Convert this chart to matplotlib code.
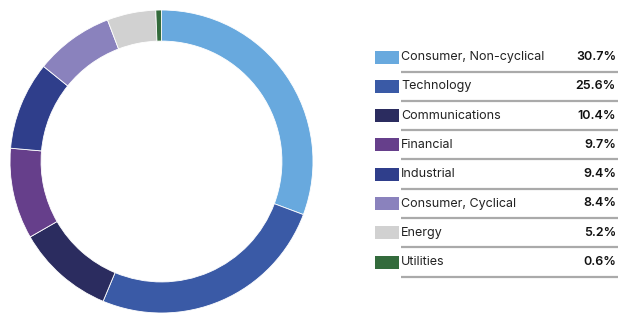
import matplotlib.pyplot as plt
from matplotlib.patches import Rectangle

sectors = ['Consumer, Non-cyclical', 'Technology', 'Communications', 'Financial',
           'Industrial', 'Consumer, Cyclical', 'Energy', 'Utilities']
weights = [30.7, 25.6, 10.4, 9.7, 9.4, 8.4, 5.2, 0.6]
colors = ['#68a9de', '#3a5aa6', '#2b2c5f', '#663f8b',
          '#2f3e8b', '#8a82bd', '#d1d1d1', '#336b3c']

W, H = 619, 314
fig = plt.figure(figsize=(W / 100, H / 100), dpi=100)

# donut
ax = fig.add_axes([10 / W, 1 / H, 303 / W, 303 / H])
ax.pie(weights, colors=colors, startangle=90, counterclock=False, radius=1,
       wedgeprops=dict(width=0.205, edgecolor='white', linewidth=0.6))
ax.set_xlim(-1, 1)
ax.set_ylim(-1, 1)
ax.set_aspect('equal')
ax.axis('off')

# legend table drawn in pixel coordinates
lg = fig.add_axes([0, 0, 1, 1])
lg.set_xlim(0, W)
lg.set_ylim(H, 0)
lg.axis('off')

y0 = 57
step = 29.3
for i, (name, val, c) in enumerate(zip(sectors, weights, colors)):
    y = y0 + i * step
    lg.add_patch(Rectangle((375, y - 6.5), 24, 13, color=c, lw=0))
    lg.text(401, y, name, fontsize=9.0, color='#222222', va='center', ha='left',
            family='Inter')
    lg.text(616, y, f'{val:.1f}%', fontsize=9.0, color='#111111', va='center',
            ha='right', fontweight='semibold', family='Inter')
    lg.plot([401, 618], [y + 14.5, y + 14.5], color='#aaaaaa', lw=1.6,
            solid_capstyle='butt')

fig.savefig('out.png', dpi=100)
